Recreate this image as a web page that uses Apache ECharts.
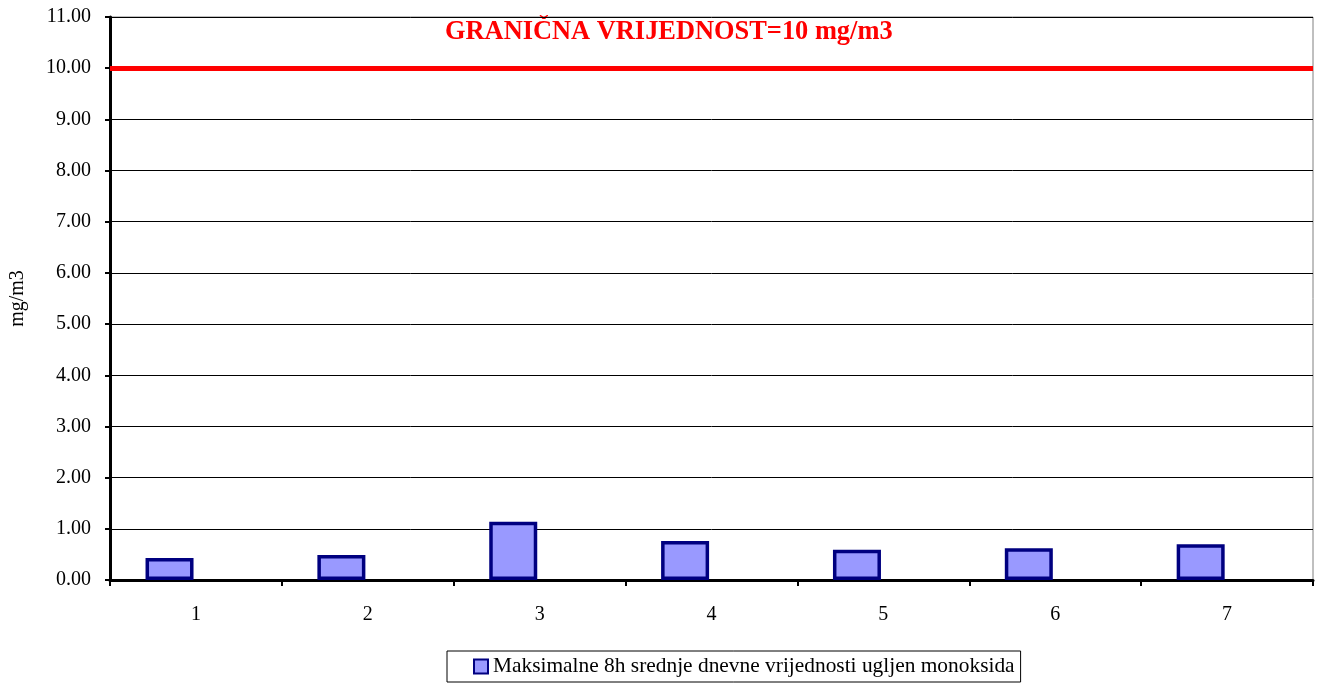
<!DOCTYPE html>
<html>
<head>
<meta charset="utf-8">
<script src="https://cdn.jsdelivr.net/npm/echarts@6/dist/echarts.min.js"></script>
<style>
  html, body { margin: 0; padding: 0; background: #fff; }
  #main { width: 1317px; height: 684px; }
</style>
</head>
<body>
<div id="main"></div>
<script>
var chartDom = document.getElementById('main')
var myChart = echarts.init(chartDom)
var option

const categories = ['1', '2', '3', '4', '5', '6', '7']
const coValues = [0.43, 0.49, 1.14, 0.76, 0.59, 0.62, 0.70]
const limitValue = 10
const seriesName = 'Maksimalne 8h srednje dnevne vrijednosti ugljen monoksida'
const limitText = 'GRANIČNA VRIJEDNOST=10 mg/m3'

const serif = '"Liberation Serif", "DejaVu Serif", serif'

option = {
  animation: false,
  backgroundColor: '#fff',
  textStyle: { fontFamily: serif },
  grid: {
    left: 110,
    right: 4,
    top: 17,
    bottom: 104,
    outerBoundsMode: 'none',
    show: true,
    borderColor: '#808080',
    borderWidth: 1
  },
  legend: {
    bottom: 2,
    left: 447,
    data: [{ name: seriesName, icon: 'rect' }],
    itemWidth: 14,
    itemHeight: 14,
    itemGap: 4,
    padding: [5, 6, 5, 26],
    borderColor: '#000',
    borderWidth: 1,
    borderRadius: 0,
    textStyle: { fontFamily: serif, fontSize: 21.4, color: '#000' }
  },
  graphic: [
    {
      type: 'text',
      left: 445,
      top: 19,
      style: {
        text: limitText,
        fill: '#ff0000',
        font: 'bold 26.4px ' + serif
      }
    }
  ],
  xAxis: {
    type: 'category',
    data: categories,
    boundaryGap: true,
    axisLine: { lineStyle: { color: '#000', width: 3 } },
    axisTick: { show: true, length: 6, lineStyle: { color: '#000', width: 2 } },
    axisLabel: { margin: 25, fontSize: 20, color: '#000', fontFamily: serif }
  },
  yAxis: {
    type: 'value',
    min: 0,
    max: 11,
    interval: 1,
    name: 'mg/m3',
    nameLocation: 'middle',
    nameGap: 82,
    nameRotate: 90,
    nameTextStyle: { fontSize: 20, color: '#000', fontFamily: serif },
    axisLine: { show: true, lineStyle: { color: '#000', width: 3 } },
    axisTick: { show: true, length: 5, lineStyle: { color: '#000', width: 2 } },
    axisLabel: {
      margin: 19,
      fontSize: 20,
      color: '#000',
      fontFamily: serif,
      formatter: v => v.toFixed(2)
    },
    splitLine: { show: true, lineStyle: { color: '#000', width: 1 } }
  },
  series: [
    {
      name: seriesName,
      type: 'bar',
      data: coValues,
      barWidth: 48,
      barGap: '10%',
      itemStyle: {
        color: '#9999ff',
        borderColor: '#000080',
        borderWidth: 3.5
      },
      markLine: {
        silent: true,
        symbol: 'none',
        label: { show: false },
        lineStyle: { color: '#ff0000', width: 5, type: 'solid' },
        data: [{ yAxis: limitValue }]
      },
      z: 3
    },
    {
      name: 'placeholder',
      type: 'bar',
      data: categories.map(() => null),
      barWidth: 48
    }
  ]
}

option && myChart.setOption(option)
</script>
</body>
</html>
